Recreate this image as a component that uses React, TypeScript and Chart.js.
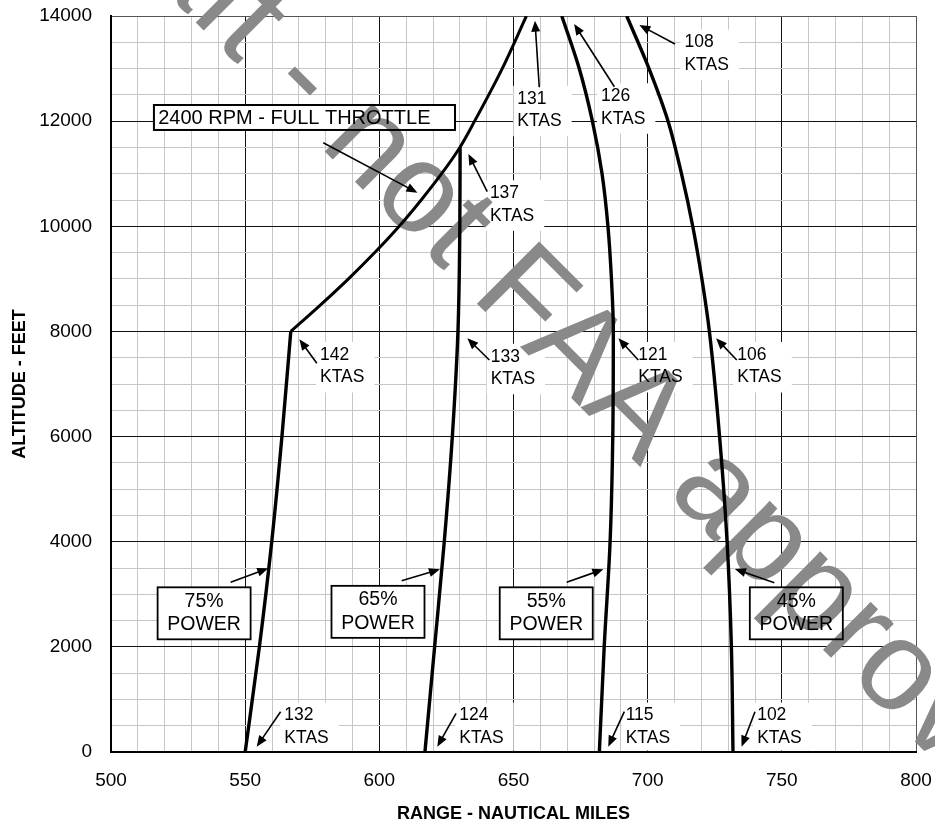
import React, { useEffect, useRef } from 'react';
import { Chart, registerables } from 'chart.js';

Chart.register(...registerables);

const FONT = '"Liberation Sans", Arial, Helvetica, sans-serif';

// ---- axis ranges / ticks ----
const X_MIN = 500;
const X_MAX = 800;
const X_MINOR = 10;
const X_MAJOR = 50;
const Y_MIN = 0;
const Y_MAX = 14000;
const Y_MINOR = 500;
const Y_MAJOR = 2000;
const X_TITLE = 'RANGE - NAUTICAL MILES';
const Y_TITLE = 'ALTITUDE - FEET';

// ---- curves (range NM, altitude ft) ----
const power75Range = [550, 555.3, 559.9, 563.7, 567];
const power75Alt = [0, 2000, 4000, 6000, 8000];

const throttleRange = [567, 578, 588.5, 598.3, 607.4, 615.6, 623.2, 630, 635.5, 645.8, 654.8];
const throttleAlt = [8000, 8500, 9000, 9500, 10000, 10500, 11000, 11500, 12000, 13000, 14000];

const power65Range = [617, 620.6, 624.2, 627.2, 629.3, 630, 630.1];
const power65Alt = [0, 2000, 4000, 6000, 8000, 10000, 11500];

const power55Range = [682, 683.8, 686, 687, 687.2, 686.5, 685.2, 683, 679.4, 674.5, 668];
const power55Alt = [0, 2000, 4000, 6000, 8000, 9000, 10000, 11000, 12000, 13000, 14000];

const power45Range = [731.8, 731.2, 729.6, 726.8, 723, 720.2, 716.8, 712.6, 707.6, 700.5, 692.2];
const power45Alt = [0, 2000, 4000, 6000, 8000, 9000, 10000, 11000, 12000, 13000, 14000];

// ---- speed annotations (data coordinates: text anchor, arrow tail, arrow tip) ----
const ktasLabels = [
  { lines: ['142', 'KTAS'], at: [577.9, 7552], tail: [576.7, 7394], tip: [570.2, 7850] },
  { lines: ['133', 'KTAS'], at: [641.5, 7519], tail: [641.0, 7457], tip: [632.8, 7869] },
  { lines: ['121', 'KTAS'], at: [696.5, 7552], tail: [696.5, 7457], tip: [689.1, 7869] },
  { lines: ['106', 'KTAS'], at: [733.4, 7552], tail: [733.2, 7457], tip: [725.5, 7869] },
  { lines: ['137', 'KTAS'], at: [641.2, 10627], tail: [640.2, 10658], tip: [633.2, 11375] },
  { lines: ['131', 'KTAS'], at: [651.4, 12425], tail: [659.6, 12644], tip: [658.0, 13911] },
  { lines: ['126', 'KTAS'], at: [682.6, 12473], tail: [687.6, 12655], tip: [672.6, 13848] },
  { lines: ['108', 'KTAS'], at: [713.7, 13496], tail: [710.2, 13467], tip: [696.9, 13829] },
  { lines: ['132', 'KTAS'], at: [564.6, 694], tail: [563.2, 767], tip: [554.3, 101] },
  { lines: ['124', 'KTAS'], at: [629.8, 694], tail: [628.6, 736], tip: [621.6, 101] },
  { lines: ['115', 'KTAS'], at: [691.8, 694], tail: [691.3, 767], tip: [685.3, 101] },
  { lines: ['102', 'KTAS'], at: [740.8, 694], tail: [740.0, 767], tip: [735.0, 101] },
];

const powerLabels = [
  { lines: ['75%', 'POWER'], center: [534.7, 2638], tail: [544.6, 3228], tip: [558.6, 3494] },
  { lines: ['65%', 'POWER'], center: [599.5, 2666], tail: [608.3, 3258], tip: [622.6, 3475] },
  { lines: ['55%', 'POWER'], center: [662.2, 2638], tail: [669.8, 3228], tip: [683.5, 3475] },
  { lines: ['45%', 'POWER'], center: [755.4, 2638], tail: [747.2, 3220], tip: [732.5, 3481] },
];

const throttleLabel = {
  text: '2400 RPM - FULL THROTTLE',
  box: [516.0, 628.2, 12307, 11832], // xLeft, xRight, yTop, yBottom
  textAt: [517.6, 12060],
  tail: [579.1, 11590],
  tip: [614.2, 10639],
};

const WATERMARK = 'Draft - not FAA approved';
const WATERMARK_ANCHOR = [605.5, 10104]; // baseline point under the "o" of "not"

function toPts(xs: number[], ys: number[]) {
  return xs.map((v, i) => ({ x: v, y: ys[i] }));
}

function drawArrow(ctx: CanvasRenderingContext2D, x1: number, y1: number, x2: number, y2: number) {
  const ang = Math.atan2(y2 - y1, x2 - x1);
  const L = 11;
  const W = 4.5;
  const c = Math.cos(ang);
  const s = Math.sin(ang);
  ctx.beginPath();
  ctx.moveTo(x1, y1);
  ctx.lineTo(x2 - L * 0.7 * c, y2 - L * 0.7 * s);
  ctx.lineWidth = 1.6;
  ctx.strokeStyle = '#000';
  ctx.stroke();
  ctx.beginPath();
  ctx.moveTo(x2, y2);
  ctx.lineTo(x2 - L * c + W * s, y2 - L * s - W * c);
  ctx.lineTo(x2 - L * c - W * s, y2 - L * s + W * c);
  ctx.closePath();
  ctx.fillStyle = '#000';
  ctx.fill();
}

const LABEL_FONT = `17.5px ${FONT}`;
const LINE_GAP = 22.5;
const BOX_W = 93;
const BOX_H = 52;

const annotationPlugin = {
  id: 'annotations',
  beforeDatasetsDraw(chart: any) {
    const { ctx, chartArea } = chart;
    const x = chart.scales.x;
    const y = chart.scales.y;
    ctx.save();
    ctx.fillStyle = '#fff';
    ctx.font = LABEL_FONT;
    ktasLabels.forEach((l) => {
      const px = x.getPixelForValue(l.at[0]);
      const py = y.getPixelForValue(l.at[1]);
      const w = Math.max(...l.lines.map((t) => ctx.measureText(t).width));
      const top = py - 13;
      const bottom = Math.min(py + LINE_GAP + 15, chartArea.bottom - 1.5);
      ctx.fillRect(px - 4, top, w + 14, bottom - top);
    });
    powerLabels.forEach((l) => {
      const cx = x.getPixelForValue(l.center[0]);
      const cy = y.getPixelForValue(l.center[1]);
      ctx.fillRect(cx - BOX_W / 2, cy - BOX_H / 2, BOX_W, BOX_H);
    });
    {
      const b = throttleLabel.box;
      const l = x.getPixelForValue(b[0]);
      const r = x.getPixelForValue(b[1]);
      const t = y.getPixelForValue(b[2]);
      const bt = y.getPixelForValue(b[3]);
      ctx.fillRect(l, t, r - l, bt - t);
    }
    // watermark
    ctx.save();
    ctx.translate(x.getPixelForValue(WATERMARK_ANCHOR[0]), y.getPixelForValue(WATERMARK_ANCHOR[1]));
    ctx.rotate(Math.PI / 4);
    ctx.font = `128px ${FONT}`;
    ctx.fillStyle = '#898989';
    ctx.textAlign = 'left';
    ctx.textBaseline = 'alphabetic';
    const off = ctx.measureText('Draft - n').width + ctx.measureText('o').width / 2;
    ctx.fillText(WATERMARK, -off, 0);
    ctx.restore();
    ctx.restore();
  },
  afterDatasetsDraw(chart: any) {
    const { ctx } = chart;
    const x = chart.scales.x;
    const y = chart.scales.y;
    ctx.save();
    ctx.fillStyle = '#000';
    ctx.textBaseline = 'middle';
    // speed labels
    ktasLabels.forEach((l) => {
      const px = x.getPixelForValue(l.at[0]);
      const py = y.getPixelForValue(l.at[1]);
      ctx.font = LABEL_FONT;
      ctx.textAlign = 'left';
      l.lines.forEach((t, i) => {
        ctx.fillStyle = '#000';
        ctx.fillText(t, px, py + i * LINE_GAP);
      });
      drawArrow(
        ctx,
        x.getPixelForValue(l.tail[0]),
        y.getPixelForValue(l.tail[1]),
        x.getPixelForValue(l.tip[0]),
        y.getPixelForValue(l.tip[1])
      );
    });
    // power boxes
    powerLabels.forEach((l) => {
      const cx = x.getPixelForValue(l.center[0]);
      const cy = y.getPixelForValue(l.center[1]);
      ctx.lineWidth = 1.8;
      ctx.strokeStyle = '#000';
      ctx.strokeRect(cx - BOX_W / 2, cy - BOX_H / 2, BOX_W, BOX_H);
      ctx.font = `19.5px ${FONT}`;
      ctx.textAlign = 'center';
      ctx.fillStyle = '#000';
      ctx.fillText(l.lines[0], cx, cy - 12);
      ctx.fillText(l.lines[1], cx, cy + 11.5);
      drawArrow(
        ctx,
        x.getPixelForValue(l.tail[0]),
        y.getPixelForValue(l.tail[1]),
        x.getPixelForValue(l.tip[0]),
        y.getPixelForValue(l.tip[1])
      );
    });
    // throttle label
    {
      const b = throttleLabel.box;
      const l = x.getPixelForValue(b[0]);
      const r = x.getPixelForValue(b[1]);
      const t = y.getPixelForValue(b[2]);
      const bt = y.getPixelForValue(b[3]);
      ctx.lineWidth = 2;
      ctx.strokeStyle = '#000';
      ctx.strokeRect(l, t, r - l, bt - t);
      ctx.font = `20px ${FONT}`;
      ctx.textAlign = 'left';
      ctx.fillStyle = '#000';
      ctx.fillText(
        throttleLabel.text,
        x.getPixelForValue(throttleLabel.textAt[0]),
        y.getPixelForValue(throttleLabel.textAt[1])
      );
      drawArrow(
        ctx,
        x.getPixelForValue(throttleLabel.tail[0]),
        y.getPixelForValue(throttleLabel.tail[1]),
        x.getPixelForValue(throttleLabel.tip[0]),
        y.getPixelForValue(throttleLabel.tip[1])
      );
    }
    ctx.restore();
  },
};

export default function App() {
  const ref = useRef<HTMLCanvasElement>(null);

  useEffect(() => {
    if (!ref.current) return;
    const lineStyle = {
      showLine: true,
      borderColor: '#000',
      backgroundColor: '#000',
      borderWidth: 3.4,
      pointRadius: 0,
      indexAxis: 'y',
      cubicInterpolationMode: 'monotone',
      fill: false,
    };
    const chart = new Chart(ref.current, {
      type: 'scatter',
      data: {
        datasets: [
          { label: '75%', data: toPts(power75Range, power75Alt), ...lineStyle },
          { label: 'Full throttle', data: toPts(throttleRange, throttleAlt), ...lineStyle, borderWidth: 3 },
          { label: '65%', data: toPts(power65Range, power65Alt), ...lineStyle },
          { label: '55%', data: toPts(power55Range, power55Alt), ...lineStyle },
          { label: '45%', data: toPts(power45Range, power45Alt), ...lineStyle },
        ] as any,
      },
      options: {
        animation: false,
        responsive: false,
        maintainAspectRatio: false,
        layout: { padding: { top: 16, right: 19, left: 0, bottom: 0 } },
        plugins: {
          legend: { display: false },
          tooltip: { enabled: false },
        },
        scales: {
          x: {
            type: 'linear',
            min: X_MIN,
            max: X_MAX,
            afterFit: (s: any) => {
              s.height = 73;
              s.paddingLeft = 0;
              s.paddingRight = 0;
            },
            ticks: {
              stepSize: X_MINOR,
              autoSkip: false,
              maxRotation: 0,
              padding: 17,
              color: '#000',
              font: { size: 19, family: FONT },
              callback: (v: any) => (Number(v) % X_MAJOR === 0 ? String(v) : ''),
            },
            grid: {
              drawTicks: false,
              lineWidth: 1,
              color: (c: any) => {
                const v = c.tick ? c.tick.value : 0;
                if (v === X_MAX) return '#555';
                return v % X_MAJOR === 0 ? '#111' : '#c6c6c6';
              },
            },
            border: { display: true, color: '#000', width: 2 },
            title: {
              display: true,
              text: X_TITLE,
              color: '#000',
              font: { size: 18, weight: 'bold', family: FONT },
              padding: { top: 0, bottom: 0 },
            },
          },
          y: {
            type: 'linear',
            min: Y_MIN,
            max: Y_MAX,
            afterFit: (s: any) => {
              s.width = 111;
              s.paddingTop = 0;
              s.paddingBottom = 0;
            },
            ticks: {
              stepSize: Y_MINOR,
              autoSkip: false,
              padding: 19,
              color: '#000',
              font: { size: 19, family: FONT },
              callback: (v: any) => (Number(v) % Y_MAJOR === 0 ? String(v) : ''),
            },
            grid: {
              drawTicks: false,
              lineWidth: 1,
              color: (c: any) => {
                const v = c.tick ? c.tick.value : 0;
                if (v === Y_MAX) return '#555';
                return v % Y_MAJOR === 0 ? '#111' : '#c6c6c6';
              },
            },
            border: { display: true, color: '#000', width: 2 },
            title: {
              display: true,
              text: Y_TITLE,
              color: '#000',
              font: { size: 18, weight: 'bold', family: FONT },
              padding: { top: 9, bottom: 0 },
            },
          },
        },
      } as any,
      plugins: [annotationPlugin],
    });
    return () => chart.destroy();
  }, []);

  return (
    <div style={{ position: 'absolute', left: 0, top: 0, width: 935, height: 825, background: '#fff' }}>
      <canvas ref={ref} width={935} height={825} style={{ display: 'block', width: 935, height: 825 }} />
    </div>
  );
}
